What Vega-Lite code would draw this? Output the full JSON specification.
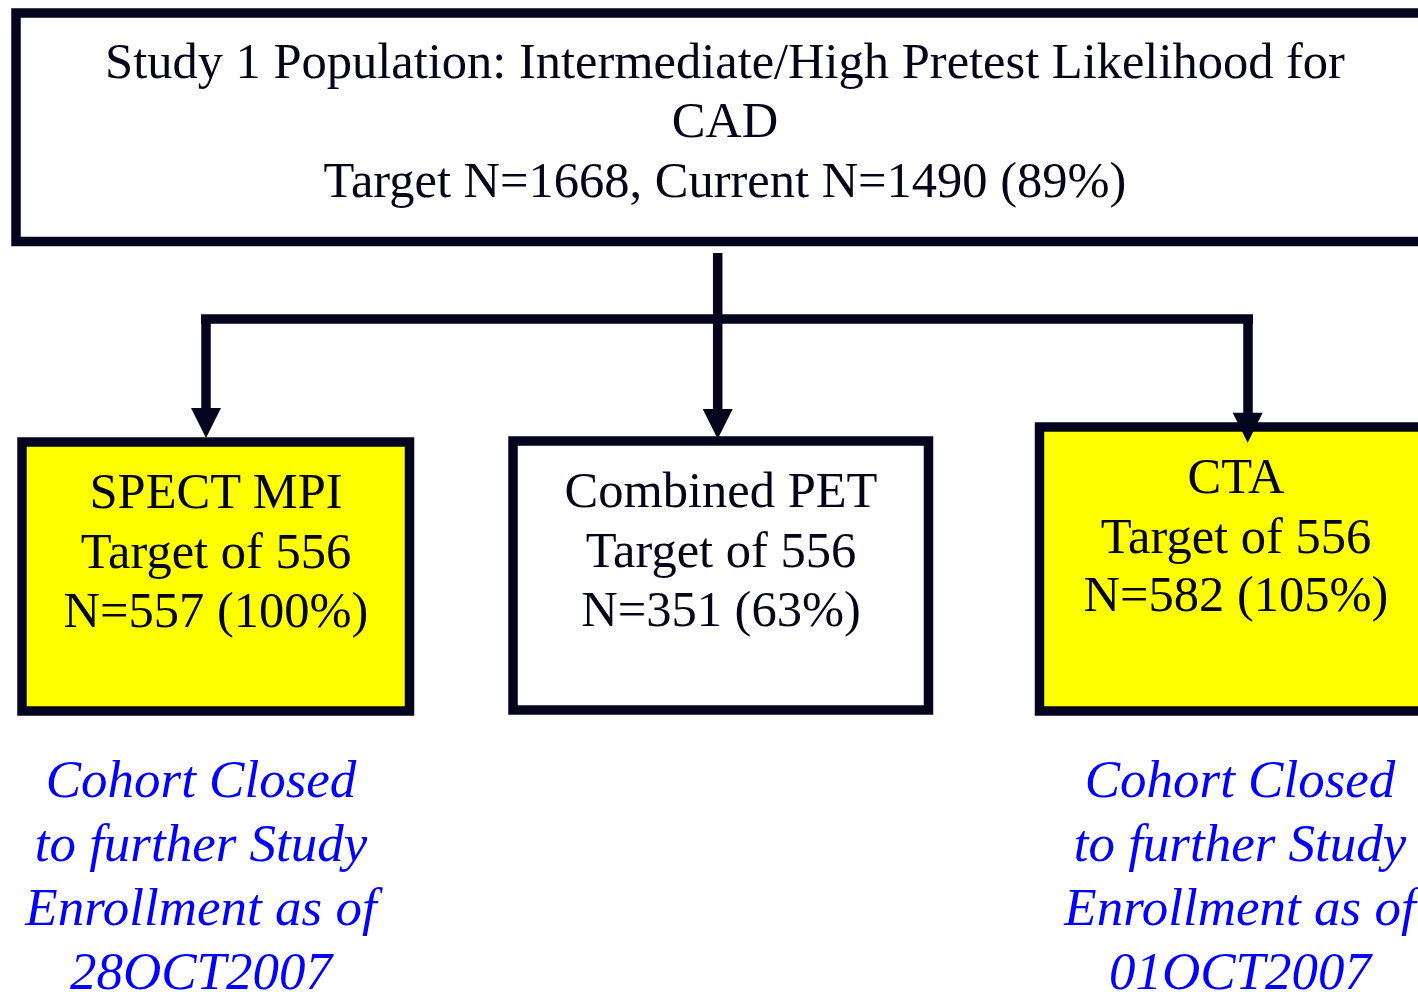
{
  "$schema": "https://vega.github.io/schema/vega-lite/v6.json",
  "width": 1418,
  "height": 992,
  "autosize": {"type": "none"},
  "padding": 0,
  "background": "white",
  "config": {"view": {"stroke": null}},
  "datasets": {
    "boxes": [
      {"box": "population", "status": "open", "x1": 16, "x2": 1445, "y1": 13, "y2": 241.5},
      {"box": "SPECT MPI", "status": "closed", "x1": 22, "x2": 409.5, "y1": 442, "y2": 711},
      {"box": "Combined PET", "status": "open", "x1": 513, "x2": 928.5, "y1": 441, "y2": 710},
      {"box": "CTA", "status": "closed", "x1": 1039.5, "x2": 1445, "y1": 427, "y2": 711}
    ],
    "connectors": [
      {"seg": "trunk", "x1": 717.7, "x2": 717.7, "y1": 253, "y2": 418},
      {"seg": "branch", "x1": 201, "x2": 1253, "y1": 319, "y2": 319},
      {"seg": "left", "x1": 206, "x2": 206, "y1": 315, "y2": 412},
      {"seg": "right", "x1": 1248, "x2": 1248, "y1": 318, "y2": 416}
    ],
    "arrows": [
      {"to": "SPECT MPI", "x": 206, "y": 423},
      {"to": "Combined PET", "x": 717.7, "y": 424},
      {"to": "CTA", "x": 1247.7, "y": 427.7}
    ],
    "labels": [
      {"text": "Study 1 Population: Intermediate/High Pretest Likelihood for", "x": 725, "y": 78},
      {"text": "CAD", "x": 725, "y": 137},
      {"text": "Target N=1668, Current N=1490 (89%)", "x": 725, "y": 197},
      {"text": "SPECT MPI", "x": 216, "y": 508},
      {"text": "Target of 556", "x": 216, "y": 568},
      {"text": "N=557 (100%)", "x": 216, "y": 627},
      {"text": "Combined PET", "x": 721, "y": 507},
      {"text": "Target of 556", "x": 721, "y": 567},
      {"text": "N=351 (63%)", "x": 721, "y": 626},
      {"text": "CTA", "x": 1236, "y": 493},
      {"text": "Target of 556", "x": 1236, "y": 553},
      {"text": "N=582 (105%)", "x": 1236, "y": 611}
    ],
    "notes": [
      {"text": "Cohort Closed", "x": 201, "y": 797},
      {"text": "to further Study", "x": 201, "y": 861},
      {"text": "Enrollment as of", "x": 201, "y": 925},
      {"text": "28OCT2007", "x": 201, "y": 989},
      {"text": "Cohort Closed", "x": 1240, "y": 797},
      {"text": "to further Study", "x": 1240, "y": 861},
      {"text": "Enrollment as of", "x": 1240, "y": 925},
      {"text": "01OCT2007", "x": 1240, "y": 989}
    ]
  },
  "layer": [
    {
      "data": {"name": "boxes"},
      "mark": {"type": "rect", "stroke": "#04041f", "strokeWidth": 9.5, "clip": true},
      "encoding": {
        "x": {"field": "x1", "type": "quantitative", "scale": {"domain": [0, 1418], "nice": false, "zero": false}, "axis": null},
        "x2": {"field": "x2"},
        "y": {"field": "y1", "type": "quantitative", "scale": {"domain": [0, 992], "nice": false, "zero": false, "reverse": true}, "axis": null},
        "y2": {"field": "y2"},
        "fill": {"field": "status", "type": "nominal", "scale": {"domain": ["closed", "open"], "range": ["#ffff00", "#ffffff"]}, "legend": null}
      }
    },
    {
      "data": {"name": "connectors"},
      "mark": {"type": "rule", "color": "#04041f", "strokeWidth": 9.5},
      "encoding": {
        "x": {"field": "x1", "type": "quantitative"},
        "x2": {"field": "x2"},
        "y": {"field": "y1", "type": "quantitative"},
        "y2": {"field": "y2"}
      }
    },
    {
      "data": {"name": "arrows"},
      "mark": {"type": "point", "shape": "M-1,-1L1,-1L0,1Z", "size": 900, "filled": true, "color": "#04041f", "opacity": 1},
      "encoding": {
        "x": {"field": "x", "type": "quantitative"},
        "y": {"field": "y", "type": "quantitative"}
      }
    },
    {
      "data": {"name": "labels"},
      "mark": {"type": "text", "font": "Liberation Serif", "fontSize": 50.5, "align": "center", "baseline": "alphabetic", "color": "#05051a"},
      "encoding": {
        "x": {"field": "x", "type": "quantitative"},
        "y": {"field": "y", "type": "quantitative"},
        "text": {"field": "text"}
      }
    },
    {
      "data": {"name": "notes"},
      "mark": {"type": "text", "font": "Liberation Serif", "fontSize": 53, "fontStyle": "italic", "align": "center", "baseline": "alphabetic", "color": "#0000ff"},
      "encoding": {
        "x": {"field": "x", "type": "quantitative"},
        "y": {"field": "y", "type": "quantitative"},
        "text": {"field": "text"}
      }
    }
  ]
}
